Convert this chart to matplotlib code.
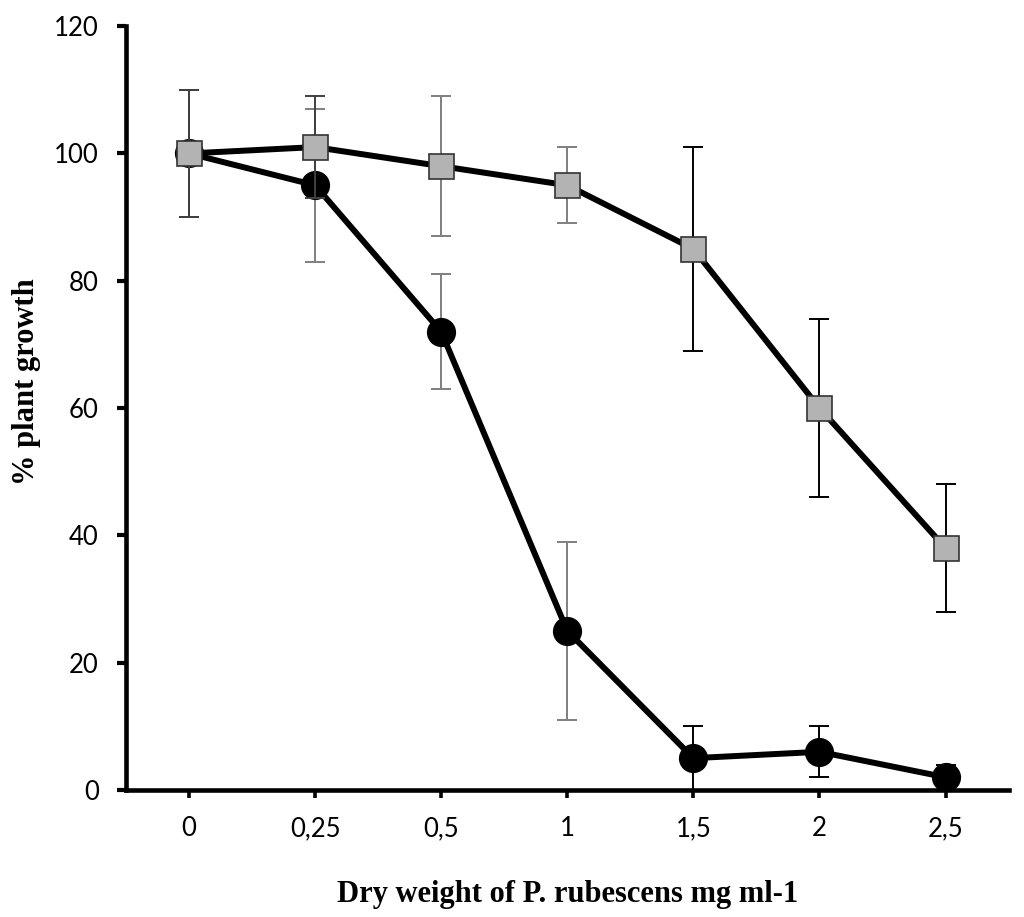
import matplotlib
matplotlib.use("Agg")
import matplotlib.pyplot as plt
import numpy as np

# données
doses = ["0", "0,25", "0,5", "1", "1,5", "2", "2,5"]
circle_vals = [100, 95, 72, 25, 5, 6, 2]
circle_err = [10, 12, 9, 14, 5, 4, 2]
circle_ecol = ["#404040", "#7f7f7f", "#7f7f7f", "#7f7f7f", "black", "black", "black"]
square_vals = [100, 101, 98, 95, 85, 60, 38]
square_err = [10, 8, 11, 6, 16, 14, 10]
square_ecol = ["#404040", "#404040", "#7f7f7f", "#7f7f7f", "black", "black", "black"]

TICK_FONT = ["Lato", "DejaVu Sans"]
LABEL_FONT = ["Liberation Serif", "DejaVu Serif"]

fig = plt.figure(figsize=(10.24, 9.17), dpi=100)
ax = fig.add_axes([0.123, 0.1385, 0.862, 0.833])

x = np.arange(len(doses))

# série cercles (dessous)
for xi, v, e, c in zip(x, circle_vals, circle_err, circle_ecol):
    ax.errorbar(xi, v, yerr=e, fmt="none", ecolor=c, elinewidth=1.4,
                capsize=7, capthick=1.4, zorder=2)
ax.plot(x, circle_vals, color="black", lw=4.3, marker="o", markersize=20,
        markerfacecolor="black", markeredgecolor="black", zorder=3)

# série carrés (dessus)
for xi, v, e, c in zip(x, square_vals, square_err, square_ecol):
    ax.errorbar(xi, v, yerr=e, fmt="none", ecolor=c, elinewidth=1.4,
                capsize=7, capthick=1.4, zorder=4)
ax.plot(x, square_vals, color="black", lw=4.3, marker="s", markersize=18,
        markerfacecolor="#b3b3b3", markeredgecolor="#333333",
        markeredgewidth=1.2, zorder=5)

ax.set_xlim(-0.5, 6.5)
ax.set_ylim(0, 120)
ax.set_yticks(range(0, 121, 20))
ax.set_xticks(x)
ax.set_xticklabels(doses)

for s in ["top", "right"]:
    ax.spines[s].set_visible(False)
for s in ["left", "bottom"]:
    ax.spines[s].set_linewidth(3.3)
ax.tick_params(axis="y", direction="out", length=6.5, width=3.0, pad=13)
ax.tick_params(axis="x", direction="out", length=6, width=2.6, pad=13)
for lab in ax.get_xticklabels() + ax.get_yticklabels():
    lab.set_family(TICK_FONT)
    lab.set_fontsize(18.5)

ax.set_xlabel("Dry weight of P. rubescens mg ml-1", family=LABEL_FONT,
              fontweight="bold", fontsize=22, labelpad=28)
# titre de l'axe y placé à la main pour ne pas être coupé
fig.text(27 / 1024, 1 - 382 / 917, "% plant growth", family=LABEL_FONT,
         fontweight="bold", fontsize=22, rotation=90,
         ha="center", va="center")

fig.savefig("out.png", dpi=100, facecolor="white")
